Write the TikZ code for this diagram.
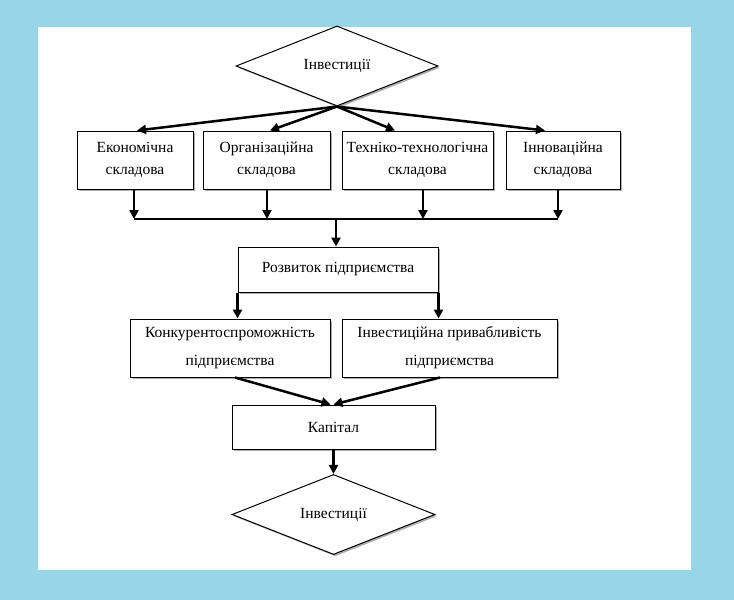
\documentclass[tikz,border=0pt]{standalone}
\usepackage{fontspec}
\setmainfont{Liberation Serif}
\usetikzlibrary{shapes.geometric,arrows.meta,shadows,calc}
\definecolor{bgblue}{RGB}{150,214,230}
\begin{document}
\begin{tikzpicture}[x=1pt,y=-1pt,
  shadowed/.style={drop shadow={shadow xshift=1.8pt,shadow yshift=-1.8pt,fill=black!45,opacity=0.7}},
  box/.style={draw=black,line width=1pt,fill=white,align=center,inner sep=0pt,
    font=\fontsize{15.5}{22}\selectfont,shadowed},
  dia/.style={diamond,draw=black,line width=1pt,fill=white,inner sep=0pt,
    font=\fontsize{15.5}{18}\selectfont,shadowed},
  arr/.style={line width=2.5pt,-{Triangle[length=9pt,width=9pt]}},
  busline/.style={line width=2pt},
]
\useasboundingbox (0,0) rectangle (734,600);
\fill[bgblue] (0,0) rectangle (734,600);
\fill[white] (38,27) rectangle (691,570);

% nodes
\node[dia,minimum width=202pt,minimum height=72pt] (top) at (337,66) {Інвестиції};
\node[box,minimum width=116pt,minimum height=58pt] (econ) at (135,160) {Економічна\\складова};
\node[box,minimum width=127pt,minimum height=58pt] (org) at (266.5,160) {Організаційна\\складова};
\node[box,minimum width=151pt,minimum height=58pt] (tech) at (417.5,160) {Техніко-технологічна\\складова};
\node[box,minimum width=114pt,minimum height=58pt] (innov) at (563,160) {Інноваційна\\складова};
\node[box,minimum width=200pt,minimum height=45pt] (rozv) at (338,269.5) {Розвиток підприємства};
\node[box,minimum width=200pt,minimum height=58pt,font=\fontsize{15.5}{28}\selectfont] (konk) at (230,348) {Конкурентоспроможність\\підприємства};
\node[box,minimum width=215pt,minimum height=58pt,font=\fontsize{15.5}{28}\selectfont] (inv) at (449.5,348) {Інвестиційна привабливість\\підприємства};
\node[box,minimum width=203pt,minimum height=44pt] (kap) at (333.5,427) {Капітал};
\node[dia,minimum width=203pt,minimum height=75pt] (bot) at (333.5,514.5) {Інвестиції};

% connectors from top diamond
\draw[arr] (top.south) -- ([xshift=2pt]econ.north);
\draw[arr] (top.south) -- ([xshift=3.5pt]org.north);
\draw[arr] (top.south) -- ([xshift=-22.5pt]tech.north);
\draw[arr] (top.south) -- ([xshift=-18pt]innov.north);

% bus
\coordinate (busL) at (134,219);
\coordinate (busR) at (558,219);
\draw[busline] (busL) -- (busR);
\draw[arr] ([xshift=-1pt]econ.south) -- (busL);
\draw[arr] ([xshift=0.5pt]org.south) -- ([xshift=0.5pt]org.south |- busL);
\draw[arr] ([xshift=5.5pt]tech.south) -- ([xshift=5.5pt]tech.south |- busL);
\draw[arr] ([xshift=-5pt]innov.south) -- (busR);
\draw[arr] ([xshift=-2pt]rozv.north |- busL) -- ([xshift=-2pt]rozv.north);

% from development
\draw[arr] (rozv.south west) -- (rozv.south west |- konk.north);
\draw[arr] (rozv.south east) -- (rozv.south east |- inv.north);

% converge to capital
\draw[arr] ([xshift=5pt]konk.south) -- ([xshift=-3pt]kap.north);
\draw[arr] ([xshift=-9.5pt]inv.south) -- ([xshift=0pt]kap.north);

% capital to investments
\draw[arr] (kap.south) -- (bot.north);
\end{tikzpicture}
\end{document}
